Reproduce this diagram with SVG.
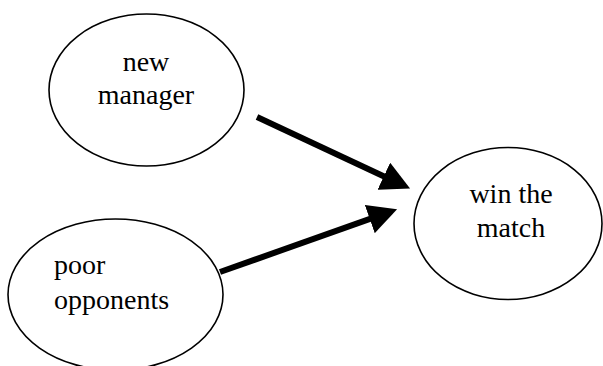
<svg xmlns="http://www.w3.org/2000/svg" width="603" height="366" viewBox="0 0 603 366">
<style>
.node ellipse{fill:#fff;stroke:#000;stroke-width:1.6}
.node text{font-family:"Liberation Serif","Times New Roman",serif;font-size:28px;fill:#000}
.edge{stroke:#000;stroke-width:6;fill:none;marker-end:url(#head)}
</style>
<defs>
<marker id="head" markerUnits="userSpaceOnUse" markerWidth="30" markerHeight="30" viewBox="0 -15 30 30" refX="1" refY="0" orient="auto">
<path d="M0,-15 L29,0 L0,15 z" fill="#000"/>
</marker>
</defs>
<rect width="603" height="366" fill="#fff"/>
<g id="node-new-manager" class="node">
<ellipse cx="146.5" cy="90" rx="97.5" ry="76"/>
<text x="146" y="71" text-anchor="middle">new</text>
<text x="146" y="104" text-anchor="middle">manager</text>
</g>
<g id="node-win-the-match" class="node">
<ellipse cx="508" cy="223.5" rx="94" ry="76"/>
<text x="511" y="203" text-anchor="middle">win the</text>
<text x="511" y="237" text-anchor="middle">match</text>
</g>
<g id="node-poor-opponents" class="node">
<ellipse cx="115.5" cy="294.6" rx="107.5" ry="75.6"/>
<text x="54" y="274">poor</text>
<text x="54" y="309">opponents</text>
</g>
<g id="connectors">
<line class="edge" x1="257" y1="117" x2="384.7" y2="176.7"/>
<line class="edge" x1="220" y1="272" x2="370.7" y2="218.7"/>
</g>
</svg>
